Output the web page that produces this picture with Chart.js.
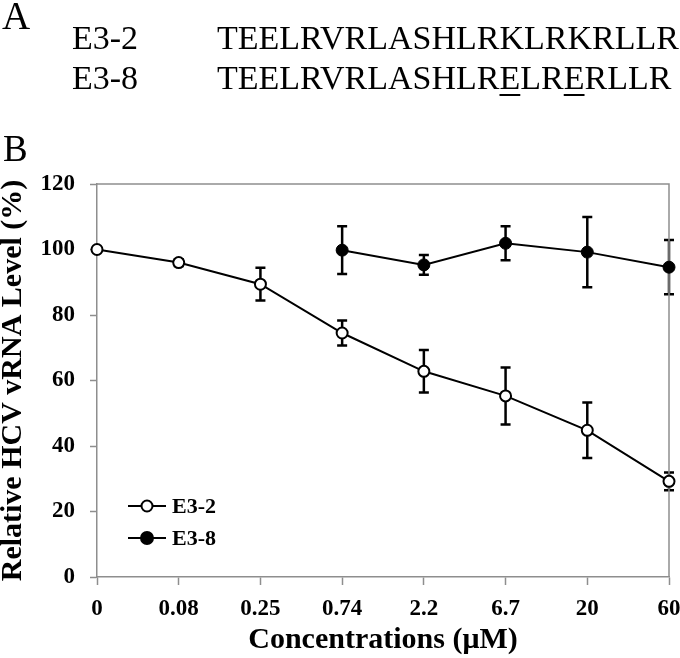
<!DOCTYPE html>
<html>
<head>
<meta charset="utf-8">
<script src="https://cdn.jsdelivr.net/npm/chart.js@4"></script>
<style>
  body { margin: 0; background: #fff; }
  #wrap { position: relative; width: 680px; height: 658px; font-family: "Liberation Serif", "Times New Roman", serif; color: #000; }
  #wrap canvas { position: absolute; left: 0; top: 0; }
  .lbl { position: absolute; white-space: nowrap; }
  u { text-decoration-thickness: 2px; text-underline-offset: 5px; }
</style>
</head>
<body>
<div id="wrap">
  <canvas id="chart" width="680" height="658"></canvas>
  <div class="lbl" style="left:2px; top:-4px; font-size:39px; line-height:39px;">A</div>
  <div class="lbl" style="left:72px; top:21px; font-size:34px; line-height:34px;">E3-2</div>
  <div class="lbl" style="left:217px; top:21px; font-size:34px; line-height:34px;">TEELRVRLASHLRKLRKRLLR</div>
  <div class="lbl" style="left:72px; top:61px; font-size:34px; line-height:34px;">E3-8</div>
  <div class="lbl" style="left:217px; top:61px; font-size:34px; line-height:34px;">TEELRVRLASHLR<u>E</u>LR<u>E</u>RLLR</div>
  <div class="lbl" style="left:3px; top:130px; font-size:37px; line-height:37px;">B</div>
</div>
<script>
// DATA
const concentrations = ["0", "0.08", "0.25", "0.74", "2.2", "6.7", "20", "60"];
const e32 = [100, 96, 89.4, 74.5, 62.8, 55.3, 44.8, 29.2];
const e32Err = [0, 1, 5, 3.8, 6.5, 8.7, 8.5, 2.7];
const e38 = [null, null, null, 99.8, 95.3, 101.9, 99.2, 94.6];
const e38Err = [0, 0, 0, 7.3, 3, 5.2, 10.7, 8.3];

const FONT = "'Liberation Serif', 'Times New Roman', serif";
const AXIS_GRAY = "#8e8e8e";

// ERROR BARS (drawn under the markers)
const errorBars = {
  id: "errorBars",
  beforeDatasetsDraw(chart) {
    const { ctx, scales: { x, y } } = chart;
    ctx.save();
    ctx.strokeStyle = "#000";
    ctx.lineWidth = 2.5;
    chart.data.datasets.forEach(ds => {
      ds.data.forEach((v, j) => {
        const e = ds.errors[j];
        if (v == null || !e) return;
        const px = x.getPixelForValue(j);
        const top = y.getPixelForValue(v + e);
        const bot = y.getPixelForValue(v - e);
        ctx.beginPath();
        ctx.moveTo(px, top); ctx.lineTo(px, bot);
        ctx.moveTo(px - 5, top); ctx.lineTo(px + 5, top);
        ctx.moveTo(px - 5, bot); ctx.lineTo(px + 5, bot);
        ctx.stroke();
      });
    });
    ctx.restore();
  }
};

// FRAME + LEGEND
const frameLegend = {
  id: "frameLegend",
  beforeDatasetsDraw(chart) {
    const { ctx, chartArea: a } = chart;
    ctx.save();
    ctx.strokeStyle = AXIS_GRAY;
    ctx.lineWidth = 1.5;
    ctx.beginPath();
    ctx.moveTo(a.left, a.top); ctx.lineTo(a.right, a.top); ctx.lineTo(a.right, a.bottom);
    ctx.stroke();
    ctx.restore();
  },
  afterDraw(chart) {
    const { ctx, chartArea: a } = chart;
    ctx.save();
    chart.data.datasets.forEach((ds, i) => {
      const yy = 506 + i * 32;
      const x0 = a.left + 31;
      ctx.strokeStyle = "#000";
      ctx.lineWidth = 2;
      ctx.beginPath();
      ctx.moveTo(x0, yy); ctx.lineTo(x0 + 38, yy);
      ctx.stroke();
      ctx.beginPath();
      ctx.arc(x0 + 19, yy, ds.pointRadius, 0, Math.PI * 2);
      ctx.fillStyle = ds.pointBackgroundColor;
      ctx.fill();
      ctx.stroke();
      ctx.fillStyle = "#000";
      ctx.font = "bold 22px " + FONT;
      ctx.textBaseline = "middle";
      ctx.fillText(ds.label, x0 + 44, yy + 1);
    });
    ctx.restore();
  }
};

new Chart(document.getElementById("chart"), {
  type: "line",
  data: {
    labels: concentrations,
    datasets: [
      {
        label: "E3-2", data: e32, errors: e32Err,
        borderColor: "#000", borderWidth: 2, tension: 0,
        pointRadius: 5.5, pointBorderWidth: 2,
        pointBackgroundColor: "#fff", pointBorderColor: "#000"
      },
      {
        label: "E3-8", data: e38, errors: e38Err,
        borderColor: "#000", borderWidth: 2, tension: 0,
        pointRadius: 6, pointBorderWidth: 1,
        pointBackgroundColor: "#000", pointBorderColor: "#000"
      }
    ]
  },
  options: {
    responsive: false,
    animation: false,
    layout: { padding: { top: 184, right: 11, left: 0, bottom: 0 } },
    plugins: { legend: { display: false }, tooltip: { enabled: false } },
    scales: {
      x: {
        offset: false,
        afterFit: s => { s.height = 81; s.paddingRight = 0; s.paddingLeft = 0; },
        border: { color: AXIS_GRAY, width: 1.5 },
        grid: { drawOnChartArea: false, drawTicks: true, tickLength: 8, tickColor: AXIS_GRAY, tickWidth: 1.5 },
        ticks: { color: "#000", padding: 10, maxRotation: 0, font: { family: FONT, size: 23, weight: "bold" } },
        title: { display: true, text: "Concentrations (\u03bcM)", color: "#000", padding: { top: 0, bottom: 0 },
                 font: { family: FONT, size: 30, weight: "bold", lineHeight: 1.2 } }
      },
      y: {
        min: 0, max: 120,
        afterFit: s => { s.width = 97; },
        border: { color: AXIS_GRAY, width: 1.5 },
        grid: { drawOnChartArea: false, drawTicks: true, tickLength: 7, tickColor: AXIS_GRAY, tickWidth: 1.5 },
        ticks: { stepSize: 20, color: "#000", padding: 15, font: { family: FONT, size: 23, weight: "bold" } },
        title: { display: true, text: "Relative HCV vRNA Level (%)", color: "#000", padding: 0,
                 font: { family: FONT, size: 30, weight: "bold", lineHeight: 0.87 } }
      }
    }
  },
  plugins: [errorBars, frameLegend]
});
</script>
</body>
</html>
